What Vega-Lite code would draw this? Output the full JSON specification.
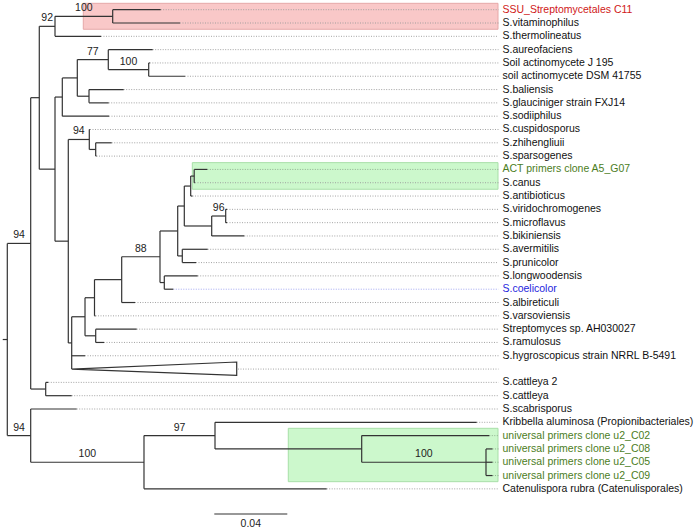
{
  "$schema": "https://vega.github.io/schema/vega-lite/v6.json",
  "width": 697,
  "height": 531,
  "padding": 0,
  "autosize": {"type": "none"},
  "config": {"view": {"stroke": null}},
  "datasets": {
    "leaves": [
      {"name": "SSU_Streptomycetales C11", "row": 0, "tip": 0.08405, "group": "SSU"},
      {"name": "S.vitaminophilus", "row": 1, "tip": 0.09463, "group": "other"},
      {"name": "S.thermolineatus", "row": 2, "tip": 0.05134, "group": "other"},
      {"name": "S.aureofaciens", "row": 3, "tip": 0.07967, "group": "other"},
      {"name": "Soil actinomycete J 195", "row": 4, "tip": 0.0781, "group": "other"},
      {"name": "soil actinomycete DSM 41755", "row": 5, "tip": 0.09737, "group": "other"},
      {"name": "S.baliensis", "row": 6, "tip": 0.06378, "group": "other"},
      {"name": "S.glauciniger strain FXJ14", "row": 7, "tip": 0.05556, "group": "other"},
      {"name": "S.sodiiphilus", "row": 8, "tip": 0.05573, "group": "other"},
      {"name": "S.cuspidosporus", "row": 9, "tip": 0.04532, "group": "other"},
      {"name": "S.zhihengliuii", "row": 10, "tip": 0.05721, "group": "other"},
      {"name": "S.sparsogenes", "row": 11, "tip": 0.04888, "group": "other"},
      {"name": "ACT primers clone A5_G07", "row": 12, "tip": 0.10959, "group": "clone"},
      {"name": "S.canus", "row": 13, "tip": 0.10285, "group": "other"},
      {"name": "S.antibioticus", "row": 14, "tip": 0.10148, "group": "other"},
      {"name": "S.viridochromogenes", "row": 15, "tip": 0.12038, "group": "other"},
      {"name": "S.microflavus", "row": 16, "tip": 0.12038, "group": "other"},
      {"name": "S.bikiniensis", "row": 17, "tip": 0.12986, "group": "other"},
      {"name": "S.avermitilis", "row": 18, "tip": 0.10981, "group": "other"},
      {"name": "S.prunicolor", "row": 19, "tip": 0.1034, "group": "other"},
      {"name": "S.longwoodensis", "row": 20, "tip": 0.10433, "group": "other"},
      {"name": "S.coelicolor", "row": 21, "tip": 0.09096, "group": "coelicolor"},
      {"name": "S.albireticuli", "row": 22, "tip": 0.06997, "group": "other"},
      {"name": "S.varsoviensis", "row": 23, "tip": 0.04833, "group": "other"},
      {"name": "Streptomyces sp. AH030027", "row": 24, "tip": 0.0709, "group": "other"},
      {"name": "S.ramulosus", "row": 25, "tip": 0.05299, "group": "other"},
      {"name": "S.hygroscopicus strain NRRL B-5491", "row": 26, "tip": 0.04258, "group": "other"},
      {"name": "", "row": 27, "tip": 0.1264, "group": "other"},
      {"name": "S.cattleya 2", "row": 28, "tip": 0.02247, "group": "other"},
      {"name": "S.cattleya", "row": 29, "tip": 0.03529, "group": "other"},
      {"name": "S.scabrisporus", "row": 30, "tip": 0.03803, "group": "other"},
      {"name": "Kribbella aluminosa (Propionibacteriales)", "row": 31, "tip": 0.25721, "group": "other"},
      {"name": "universal primers clone u2_C02", "row": 32, "tip": 0.26411, "group": "clone"},
      {"name": "universal primers clone u2_C08", "row": 33, "tip": 0.26586, "group": "clone"},
      {"name": "universal primers clone u2_C05", "row": 34, "tip": 0.26586, "group": "clone"},
      {"name": "universal primers clone u2_C09", "row": 35, "tip": 0.26586, "group": "clone"},
      {"name": "Catenulispora rubra (Catenulisporales)", "row": 36, "tip": 0.17501, "group": "other"}
    ],
    "segs": [
      {"x": 0, "x2": 0, "y": 17.56, "y2": 32},
      {"x": -0.0025, "x2": 0, "y": 24.78, "y2": 24.78},
      {"x": 0, "x2": 0.01282, "y": 17.56, "y2": 17.56},
      {"x": 0, "x2": 0.01282, "y": 32, "y2": 32},
      {"x": 0.01282, "x2": 0.01282, "y": 6.61, "y2": 28.5},
      {"x": 0.01282, "x2": 0.01753, "y": 6.61, "y2": 6.61},
      {"x": 0.01282, "x2": 0.02104, "y": 28.5, "y2": 28.5},
      {"x": 0.01753, "x2": 0.01753, "y": 1.25, "y2": 11.98},
      {"x": 0.01753, "x2": 0.02614, "y": 1.25, "y2": 1.25},
      {"x": 0.01753, "x2": 0.02614, "y": 11.98, "y2": 11.98},
      {"x": 0.02614, "x2": 0.02614, "y": 0.5, "y2": 2},
      {"x": 0.02614, "x2": 0.05775, "y": 0.5, "y2": 0.5},
      {"x": 0.02614, "x2": 0.05134, "y": 2, "y2": 2},
      {"x": 0.05775, "x2": 0.05775, "y": 0, "y2": 1},
      {"x": 0.05775, "x2": 0.08405, "y": 0, "y2": 0},
      {"x": 0.05775, "x2": 0.09463, "y": 1, "y2": 1},
      {"x": 0.02614, "x2": 0.02614, "y": 6.5625, "y2": 17.39},
      {"x": 0.02614, "x2": 0.03014, "y": 6.5625, "y2": 6.5625},
      {"x": 0.02614, "x2": 0.03342, "y": 17.39, "y2": 17.39},
      {"x": 0.03014, "x2": 0.03014, "y": 5.125, "y2": 8},
      {"x": 0.03014, "x2": 0.03836, "y": 5.125, "y2": 5.125},
      {"x": 0.03014, "x2": 0.05573, "y": 8, "y2": 8},
      {"x": 0.03836, "x2": 0.03836, "y": 3.75, "y2": 6.5},
      {"x": 0.03836, "x2": 0.05534, "y": 3.75, "y2": 3.75},
      {"x": 0.03836, "x2": 0.04477, "y": 6.5, "y2": 6.5},
      {"x": 0.05534, "x2": 0.05534, "y": 3, "y2": 4.5},
      {"x": 0.05534, "x2": 0.07967, "y": 3, "y2": 3},
      {"x": 0.05534, "x2": 0.07748, "y": 4.5, "y2": 4.5},
      {"x": 0.07748, "x2": 0.07748, "y": 4, "y2": 5},
      {"x": 0.07748, "x2": 0.0781, "y": 4, "y2": 4},
      {"x": 0.07748, "x2": 0.09737, "y": 5, "y2": 5},
      {"x": 0.04477, "x2": 0.04477, "y": 6, "y2": 7},
      {"x": 0.04477, "x2": 0.06378, "y": 6, "y2": 6},
      {"x": 0.04477, "x2": 0.05556, "y": 7, "y2": 7},
      {"x": 0.03342, "x2": 0.03342, "y": 9.75, "y2": 25.035},
      {"x": 0.03342, "x2": 0.04493, "y": 9.75, "y2": 9.75},
      {"x": 0.03342, "x2": 0.03529, "y": 25.035, "y2": 25.035},
      {"x": 0.04493, "x2": 0.04493, "y": 9, "y2": 10.5},
      {"x": 0.04493, "x2": 0.04532, "y": 9, "y2": 9},
      {"x": 0.04493, "x2": 0.04844, "y": 10.5, "y2": 10.5},
      {"x": 0.04844, "x2": 0.04844, "y": 10, "y2": 11},
      {"x": 0.04844, "x2": 0.05721, "y": 10, "y2": 10},
      {"x": 0.04844, "x2": 0.04888, "y": 11, "y2": 11},
      {"x": 0.03529, "x2": 0.03529, "y": 23.07, "y2": 27},
      {"x": 0.03529, "x2": 0.04258, "y": 23.07, "y2": 23.07},
      {"x": 0.03529, "x2": 0.04258, "y": 26, "y2": 26},
      {"x": 0.04258, "x2": 0.04258, "y": 21.64, "y2": 24.5},
      {"x": 0.04258, "x2": 0.04778, "y": 21.64, "y2": 21.64},
      {"x": 0.04258, "x2": 0.04844, "y": 24.5, "y2": 24.5},
      {"x": 0.04778, "x2": 0.04778, "y": 20.28, "y2": 23},
      {"x": 0.04778, "x2": 0.06268, "y": 20.28, "y2": 20.28},
      {"x": 0.04778, "x2": 0.04833, "y": 23, "y2": 23},
      {"x": 0.06268, "x2": 0.06268, "y": 18.5625, "y2": 22},
      {"x": 0.06268, "x2": 0.08367, "y": 18.5625, "y2": 18.5625},
      {"x": 0.06268, "x2": 0.06997, "y": 22, "y2": 22},
      {"x": 0.08367, "x2": 0.08367, "y": 16.625, "y2": 20.5},
      {"x": 0.08367, "x2": 0.09337, "y": 16.625, "y2": 16.625},
      {"x": 0.08367, "x2": 0.08603, "y": 20.5, "y2": 20.5},
      {"x": 0.09337, "x2": 0.09337, "y": 14.75, "y2": 18.5},
      {"x": 0.09337, "x2": 0.09699, "y": 14.75, "y2": 14.75},
      {"x": 0.09337, "x2": 0.09589, "y": 18.5, "y2": 18.5},
      {"x": 0.09699, "x2": 0.09699, "y": 13.25, "y2": 16.25},
      {"x": 0.09699, "x2": 0.10049, "y": 13.25, "y2": 13.25},
      {"x": 0.09699, "x2": 0.112, "y": 16.25, "y2": 16.25},
      {"x": 0.10049, "x2": 0.10049, "y": 12.5, "y2": 14},
      {"x": 0.10049, "x2": 0.10241, "y": 12.5, "y2": 12.5},
      {"x": 0.10049, "x2": 0.10148, "y": 14, "y2": 14},
      {"x": 0.10241, "x2": 0.10241, "y": 12, "y2": 13},
      {"x": 0.10241, "x2": 0.10959, "y": 12, "y2": 12},
      {"x": 0.10241, "x2": 0.10285, "y": 13, "y2": 13},
      {"x": 0.112, "x2": 0.112, "y": 15.5, "y2": 17},
      {"x": 0.112, "x2": 0.11967, "y": 15.5, "y2": 15.5},
      {"x": 0.112, "x2": 0.12986, "y": 17, "y2": 17},
      {"x": 0.11967, "x2": 0.11967, "y": 15, "y2": 16},
      {"x": 0.11967, "x2": 0.12038, "y": 15, "y2": 15},
      {"x": 0.11967, "x2": 0.12038, "y": 16, "y2": 16},
      {"x": 0.09589, "x2": 0.09589, "y": 18, "y2": 19},
      {"x": 0.09589, "x2": 0.10981, "y": 18, "y2": 18},
      {"x": 0.09589, "x2": 0.1034, "y": 19, "y2": 19},
      {"x": 0.08603, "x2": 0.08603, "y": 20, "y2": 21},
      {"x": 0.08603, "x2": 0.10433, "y": 20, "y2": 20},
      {"x": 0.08603, "x2": 0.09096, "y": 21, "y2": 21},
      {"x": 0.04844, "x2": 0.04844, "y": 24, "y2": 25},
      {"x": 0.04844, "x2": 0.0709, "y": 24, "y2": 24},
      {"x": 0.04844, "x2": 0.05299, "y": 25, "y2": 25},
      {"x": 0.02104, "x2": 0.02104, "y": 28, "y2": 29},
      {"x": 0.02104, "x2": 0.02247, "y": 28, "y2": 28},
      {"x": 0.02104, "x2": 0.03529, "y": 29, "y2": 29},
      {"x": 0.01282, "x2": 0.01282, "y": 30, "y2": 34},
      {"x": 0.01282, "x2": 0.03803, "y": 30, "y2": 30},
      {"x": 0.01282, "x2": 0.0749, "y": 34, "y2": 34},
      {"x": 0.0749, "x2": 0.0749, "y": 32, "y2": 36},
      {"x": 0.0749, "x2": 0.11381, "y": 32, "y2": 32},
      {"x": 0.0749, "x2": 0.17501, "y": 36, "y2": 36},
      {"x": 0.11381, "x2": 0.11381, "y": 31, "y2": 33},
      {"x": 0.11381, "x2": 0.25721, "y": 31, "y2": 31},
      {"x": 0.11381, "x2": 0.19419, "y": 33, "y2": 33},
      {"x": 0.19419, "x2": 0.19419, "y": 32, "y2": 34},
      {"x": 0.19419, "x2": 0.26411, "y": 32, "y2": 32},
      {"x": 0.19419, "x2": 0.2623, "y": 34, "y2": 34},
      {"x": 0.2623, "x2": 0.2623, "y": 33, "y2": 35},
      {"x": 0.2623, "x2": 0.26586, "y": 33, "y2": 33},
      {"x": 0.2623, "x2": 0.26586, "y": 34, "y2": 34},
      {"x": 0.2623, "x2": 0.26586, "y": 35, "y2": 35}
    ],
    "support": [
      {"label": "92", "x": 0.02184, "row": 1.25},
      {"label": "100", "x": 0.04195, "row": 0.5},
      {"label": "77", "x": 0.04685, "row": 3.75},
      {"label": "100", "x": 0.06641, "row": 4.5},
      {"label": "94", "x": 0.03918, "row": 9.75},
      {"label": "88", "x": 0.07318, "row": 18.5625},
      {"label": "96", "x": 0.11584, "row": 15.5},
      {"label": "94", "x": 0.00641, "row": 17.56},
      {"label": "94", "x": 0.00641, "row": 32},
      {"label": "100", "x": 0.04386, "row": 34},
      {"label": "97", "x": 0.09436, "row": 32},
      {"label": "100", "x": 0.22825, "row": 34}
    ],
    "boxes": [
      {"group": "SSU", "x": 0.04164, "x2": 0.26888, "r1": -0.48, "r2": 1.47},
      {"group": "clone", "x": 0.10137, "x2": 0.26888, "r1": 11.49, "r2": 13.49},
      {"group": "clone", "x": 0.15397, "x2": 0.26888, "r1": 31.45, "r2": 35.46}
    ],
    "triangle": [
      {"ord": 0, "x": 0.03529, "row": 27},
      {"ord": 1, "x": 0.1257, "row": 26.47},
      {"ord": 2, "x": 0.1257, "row": 27.47},
      {"ord": 3, "x": 0.03529, "row": 27}
    ],
    "scalebar": [
      {"x": 0.11342, "x2": 0.15342, "row": 37.89, "label": "0.04", "mid": 0.13342, "labelrow": 38.64}
    ]
  },
  "layer": [
    {
      "data": {"name": "boxes"},
      "mark": {"type": "rect", "strokeWidth": 1},
      "encoding": {
        "x": {"field": "x", "type": "quantitative", "scale": {"domain": [-0.004, 0.37792], "nice": false, "zero": false}, "axis": null},
        "x2": {"field": "x2"},
        "y": {"field": "r1", "type": "quantitative", "scale": {"domain": [-0.729, 39.166], "reverse": true, "nice": false, "zero": false}, "axis": null},
        "y2": {"field": "r2"},
        "fill": {"field": "group", "type": "nominal", "scale": {"domain": ["SSU", "clone"], "range": ["#f9c8c8", "#ccf8cc"]}, "legend": null},
        "stroke": {"field": "group", "type": "nominal", "scale": {"domain": ["SSU", "clone"], "range": ["#e6a8a8", "#a8dfa8"]}, "legend": null}
      }
    },
    {
      "data": {"name": "leaves"},
      "mark": {"type": "rule", "strokeDash": [1, 1.5], "strokeWidth": 0.9},
      "encoding": {
        "x": {"field": "tip", "type": "quantitative", "scale": {"domain": [-0.004, 0.37792], "nice": false, "zero": false}, "axis": null},
        "x2": {"datum": 0.26915},
        "y": {"field": "row", "type": "quantitative", "scale": {"domain": [-0.729, 39.166], "reverse": true, "nice": false, "zero": false}, "axis": null},
        "color": {"field": "group", "type": "nominal", "scale": {"domain": ["other", "SSU", "clone", "coelicolor"], "range": ["#9a9a9a", "#9a9a9a", "#8aa88a", "#9a9ff0"]}, "legend": null}
      }
    },
    {
      "data": {"name": "segs"},
      "mark": {"type": "rule", "color": "#333333", "strokeWidth": 1.2},
      "encoding": {
        "x": {"field": "x", "type": "quantitative", "scale": {"domain": [-0.004, 0.37792], "nice": false, "zero": false}, "axis": null},
        "x2": {"field": "x2"},
        "y": {"field": "y", "type": "quantitative", "scale": {"domain": [-0.729, 39.166], "reverse": true, "nice": false, "zero": false}, "axis": null},
        "y2": {"field": "y2"}
      }
    },
    {
      "data": {"name": "triangle"},
      "mark": {"type": "line", "color": "#333333", "strokeWidth": 1.2},
      "encoding": {
        "x": {"field": "x", "type": "quantitative", "scale": {"domain": [-0.004, 0.37792], "nice": false, "zero": false}, "axis": null},
        "y": {"field": "row", "type": "quantitative", "scale": {"domain": [-0.729, 39.166], "reverse": true, "nice": false, "zero": false}, "axis": null},
        "order": {"field": "ord", "type": "quantitative"}
      }
    },
    {
      "data": {"name": "leaves"},
      "mark": {"type": "text", "align": "left", "baseline": "middle", "font": "Liberation Sans", "fontSize": 10.5},
      "encoding": {
        "x": {"datum": 0.27134, "type": "quantitative", "scale": {"domain": [-0.004, 0.37792], "nice": false, "zero": false}, "axis": null},
        "y": {"field": "row", "type": "quantitative", "scale": {"domain": [-0.729, 39.166], "reverse": true, "nice": false, "zero": false}, "axis": null},
        "text": {"field": "name"},
        "color": {"field": "group", "type": "nominal", "scale": {"domain": ["other", "SSU", "clone", "coelicolor"], "range": ["#111111", "#d01818", "#4b7d1d", "#2424dd"]}, "legend": null}
      }
    },
    {
      "data": {"name": "support"},
      "mark": {"type": "text", "align": "center", "baseline": "alphabetic", "dy": -5, "font": "Liberation Sans", "fontSize": 10.5, "color": "#222222"},
      "encoding": {
        "x": {"field": "x", "type": "quantitative", "scale": {"domain": [-0.004, 0.37792], "nice": false, "zero": false}, "axis": null},
        "y": {"field": "row", "type": "quantitative", "scale": {"domain": [-0.729, 39.166], "reverse": true, "nice": false, "zero": false}, "axis": null},
        "text": {"field": "label"}
      }
    },
    {
      "data": {"name": "scalebar"},
      "mark": {"type": "rule", "color": "#333333", "strokeWidth": 1.2},
      "encoding": {
        "x": {"field": "x", "type": "quantitative", "scale": {"domain": [-0.004, 0.37792], "nice": false, "zero": false}, "axis": null},
        "x2": {"field": "x2"},
        "y": {"field": "row", "type": "quantitative", "scale": {"domain": [-0.729, 39.166], "reverse": true, "nice": false, "zero": false}, "axis": null}
      }
    },
    {
      "data": {"name": "scalebar"},
      "mark": {"type": "text", "align": "center", "baseline": "middle", "font": "Liberation Sans", "fontSize": 10.5, "color": "#222222"},
      "encoding": {
        "x": {"field": "mid", "type": "quantitative", "scale": {"domain": [-0.004, 0.37792], "nice": false, "zero": false}, "axis": null},
        "y": {"field": "labelrow", "type": "quantitative", "scale": {"domain": [-0.729, 39.166], "reverse": true, "nice": false, "zero": false}, "axis": null},
        "text": {"field": "label"}
      }
    }
  ],
  "resolve": {"scale": {"color": "independent", "fill": "independent", "stroke": "independent"}}
}
